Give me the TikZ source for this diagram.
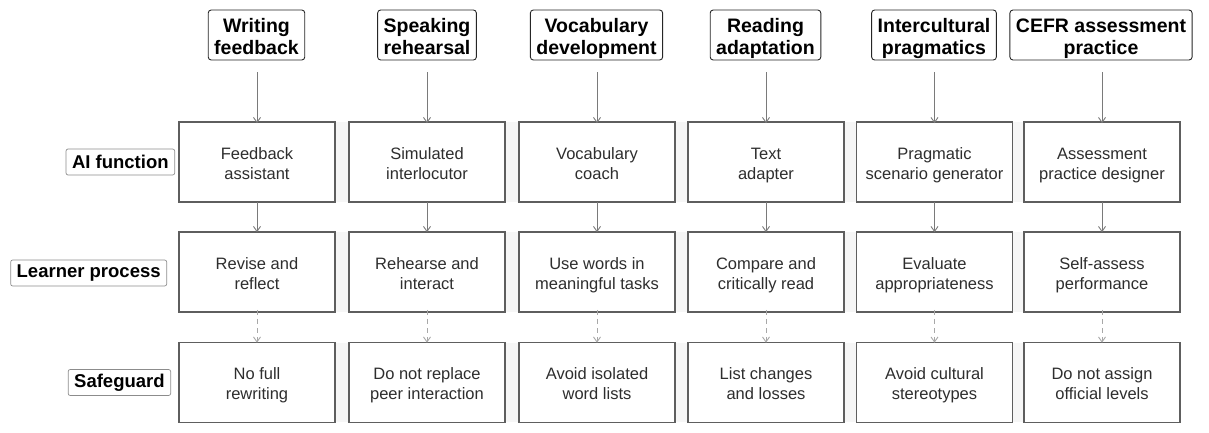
\documentclass[tikz,border=0pt]{standalone}
\usepackage{fontspec}
\setmainfont{Liberation Sans}
\usetikzlibrary{arrows.meta}
\definecolor{boxline}{HTML}{5E5E5E}
\definecolor{arrowc}{HTML}{7A7A7A}
\definecolor{dashc}{HTML}{A8A8A8}
\definecolor{bandc}{HTML}{F6F6F6}
\definecolor{lblline}{HTML}{8C8C8C}
\newcommand{\twol}[2]{\rule{0pt}{19.6pt}#1\\#2\rule[-5pt]{0pt}{5pt}}
\newcommand{\twoh}[2]{\rule{0pt}{22.5pt}#1\\#2\rule[-5.5pt]{0pt}{5.5pt}}
\begin{document}
\begin{tikzpicture}[x=1pt,y=-1pt,
  cellbox/.style={draw=boxline,line width=1.6pt,fill=white,minimum width=156pt,minimum height=80pt,align=center,font=\fontsize{16.5}{20}\selectfont,text=black!82,inner sep=0pt},
  headbox/.style={draw=black!85,line width=0.9pt,rounded corners=3pt,fill=white,align=center,font=\fontsize{19.5}{22}\selectfont\bfseries,inner xsep=6pt,inner ysep=0pt,minimum height=50pt},
  rowlbl/.style={draw=lblline,line width=0.7pt,rounded corners=2pt,font=\fontsize{18.5}{21}\selectfont\bfseries,inner xsep=6pt,inner ysep=2pt,minimum height=26pt,anchor=east},
  solidarr/.style={draw=arrowc,line width=0.9pt,-{Straight Barb[length=5pt,width=7pt]}},
  dasharr/.style={draw=dashc,line width=0.9pt,dashed,dash pattern=on 5pt off 4pt,-{Straight Barb[length=5pt,width=7pt]}}
]
\useasboundingbox (0,0) rectangle (1209,433);
% row bands
\fill[bandc] (179,122) rectangle (1180,202);
\fill[bandc] (179,232) rectangle (1180,312);
\fill[bandc] (179,343) rectangle (1180,422);
% row labels
\node[rowlbl] (l1) at (175,162) {AI function};
\node[rowlbl] (l2) at (167,273) {Learner process};
\node[rowlbl] (l3) at (171,382.5) {Safeguard};
% headers
\node[headbox] (h1) at (256.5,35) {\twoh{Writing}{feedback}};
\node[headbox] (h2) at (427,35) {\twoh{Speaking}{rehearsal}};
\node[headbox] (h3) at (596.5,35) {\twoh{Vocabulary}{development}};
\node[headbox] (h4) at (765.5,35) {\twoh{Reading}{adaptation}};
\node[headbox] (h5) at (934,35) {\twoh{Intercultural}{pragmatics}};
\node[headbox] (h6) at (1101,35) {\twoh{CEFR assessment}{practice}};
% row 1
\node[cellbox] (a1) at (257,162) {\twol{Feedback}{assistant}};
\node[cellbox] (a2) at (427,162) {\twol{Simulated}{interlocutor}};
\node[cellbox] (a3) at (597,162) {\twol{Vocabulary}{coach}};
\node[cellbox] (a4) at (766,162) {\twol{Text}{adapter}};
\node[cellbox] (a5) at (934.5,162) {\twol{Pragmatic}{scenario generator}};
\node[cellbox] (a6) at (1102,162) {\twol{Assessment}{practice designer}};
% row 2
\node[cellbox] (b1) at (257,272) {\twol{Revise and}{reflect}};
\node[cellbox] (b2) at (427,272) {\twol{Rehearse and}{interact}};
\node[cellbox] (b3) at (597,272) {\twol{Use words in}{meaningful tasks}};
\node[cellbox] (b4) at (766,272) {\twol{Compare and}{critically read}};
\node[cellbox] (b5) at (934.5,272) {\twol{Evaluate}{appropriateness}};
\node[cellbox] (b6) at (1102,272) {\twol{Self-assess}{performance}};
% row 3
\node[cellbox] (c1) at (257,382.5) {\twol{No full}{rewriting}};
\node[cellbox] (c2) at (427,382.5) {\twol{Do not replace}{peer interaction}};
\node[cellbox] (c3) at (597,382.5) {\twol{Avoid isolated}{word lists}};
\node[cellbox] (c4) at (766,382.5) {\twol{List changes}{and losses}};
\node[cellbox] (c5) at (934.5,382.5) {\twol{Avoid cultural}{stereotypes}};
\node[cellbox] (c6) at (1102,382.5) {\twol{Do not assign}{official levels}};
% connectors
\foreach \i in {1,...,6}{
  \coordinate (t\i) at ([yshift=-12pt]h\i.south -| a\i.north);
  \draw[solidarr] (t\i) -- ([yshift=-2pt]a\i.north);
  \draw[solidarr] ([yshift=1pt]a\i.south) -- ([yshift=-1pt]b\i.north);
  \draw[dasharr] ([yshift=3pt]b\i.south) -- ([yshift=-1pt]c\i.north);
}
\end{tikzpicture}
\end{document}
